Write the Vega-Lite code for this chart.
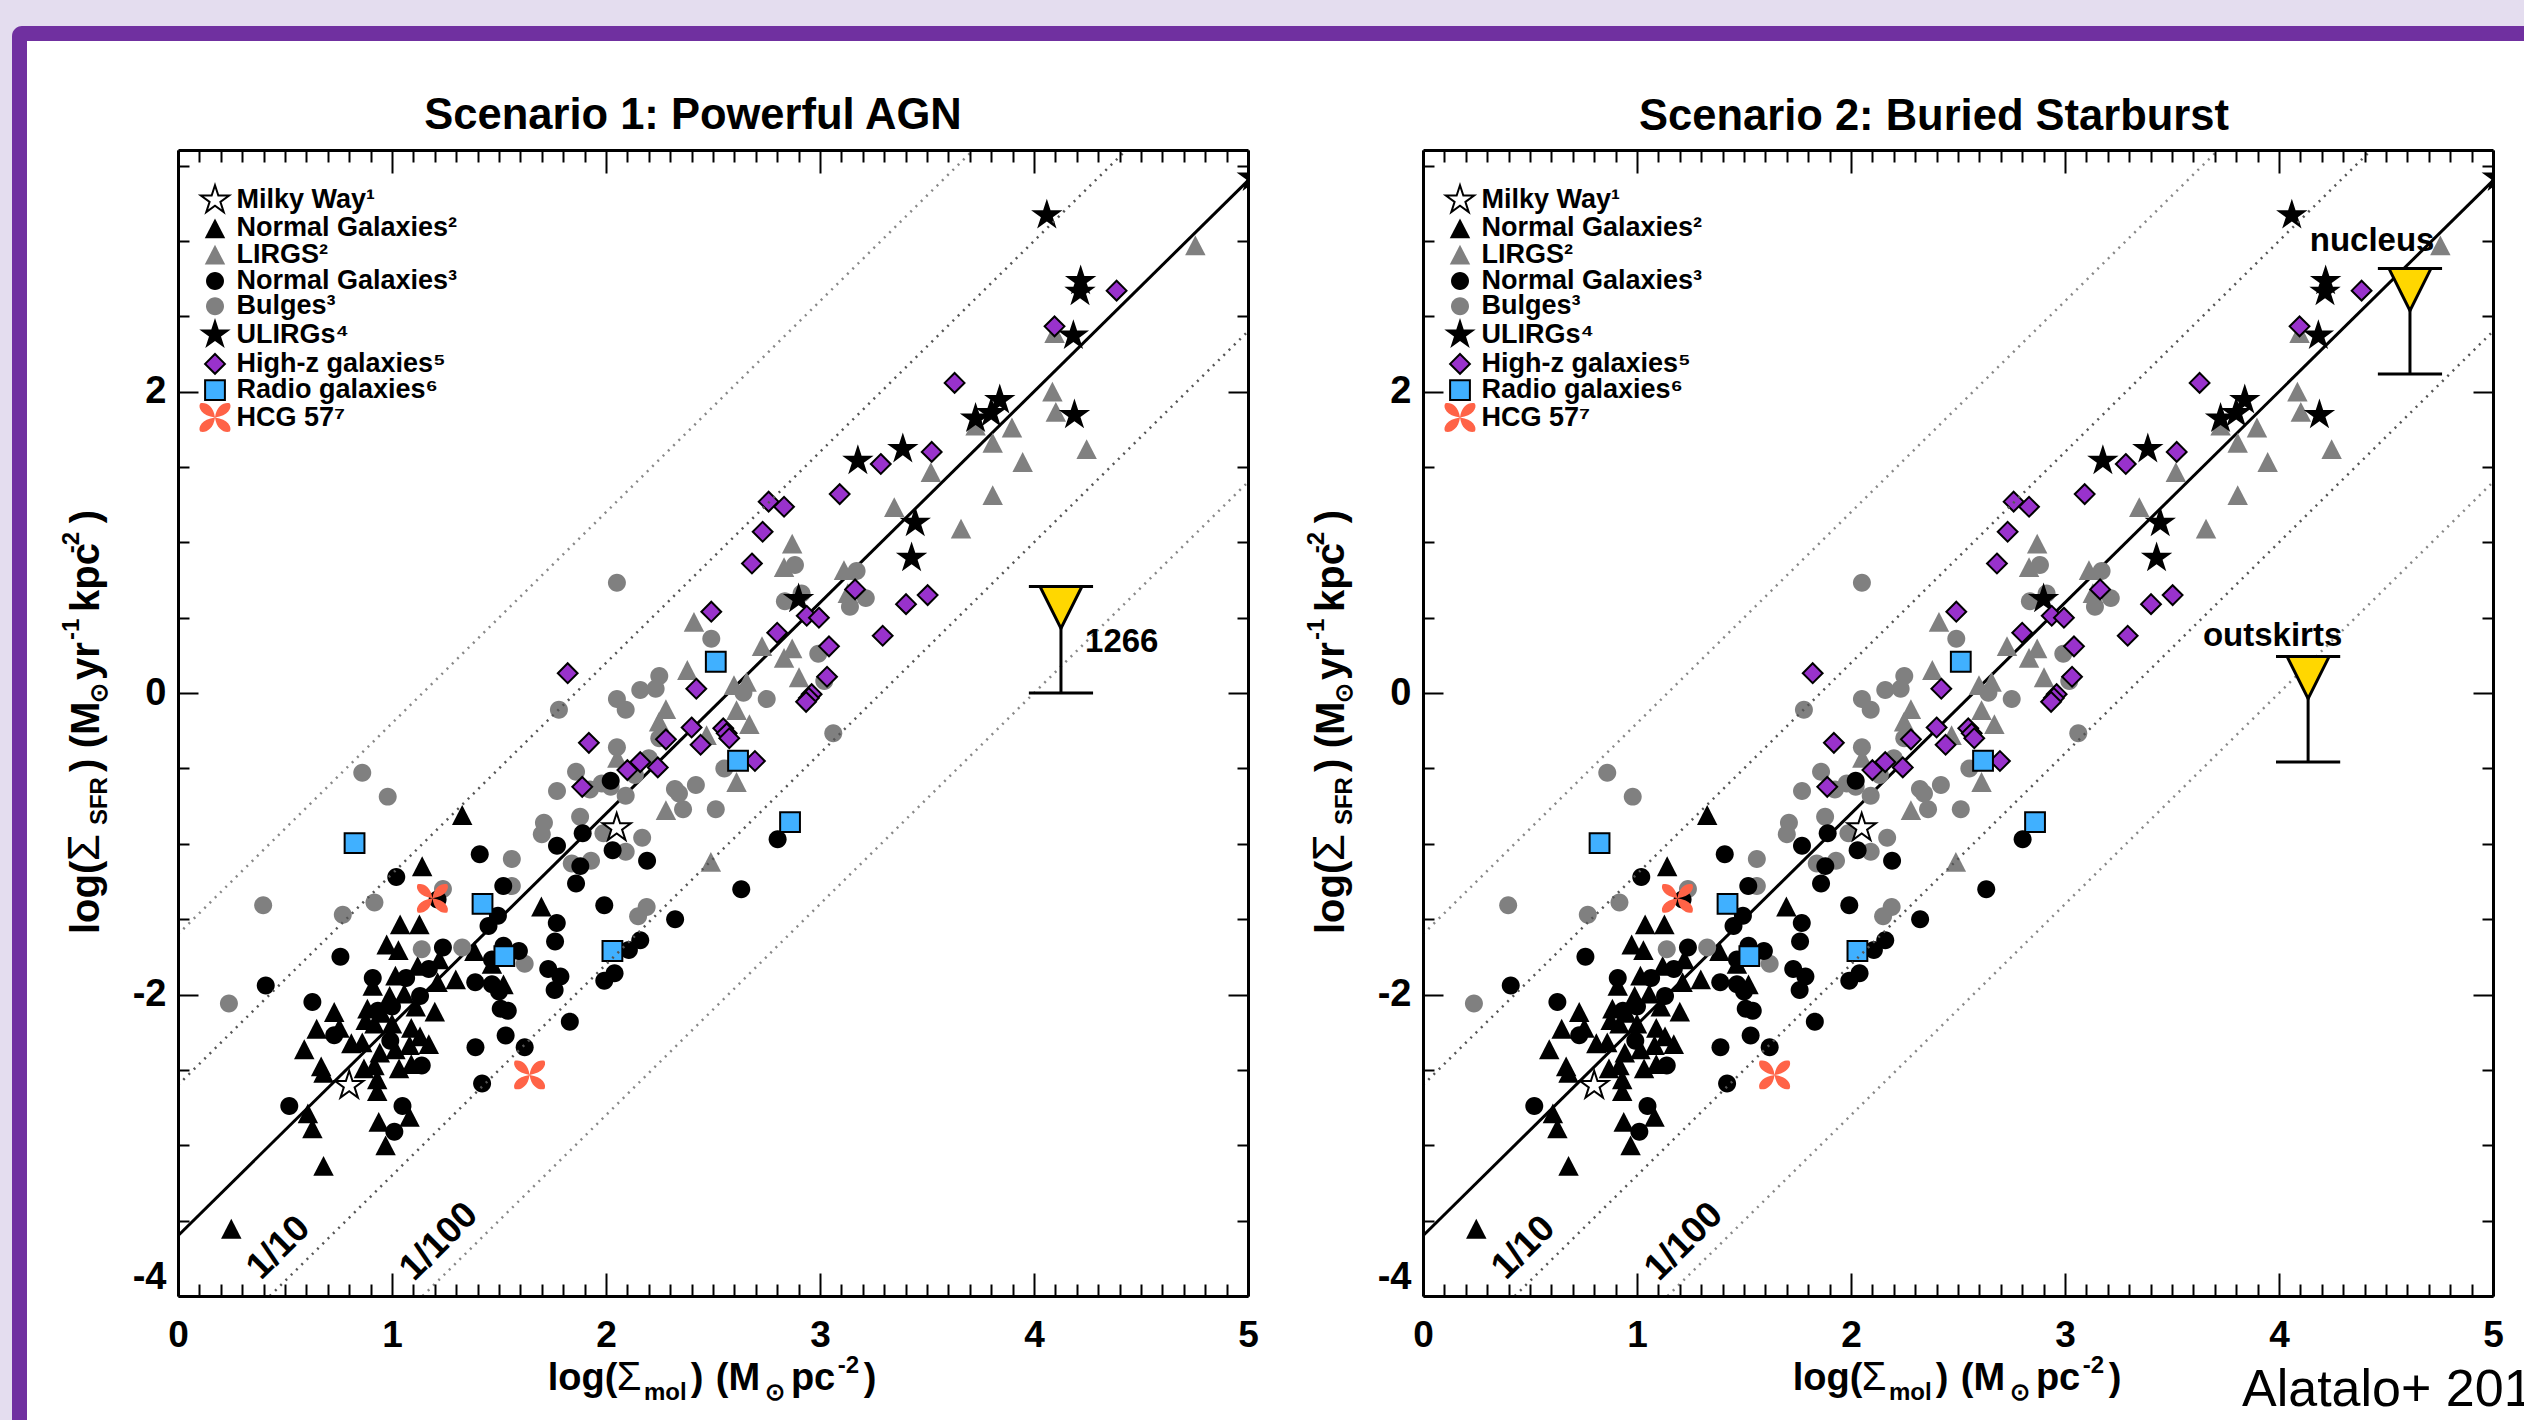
{"$schema":"https://vega.github.io/schema/vega-lite/v6.json","background":"#E4DDEF","autosize":{"type":"none"},"padding":{"left":178,"top":150,"right":2346,"bottom":1270},"bounds":"flush","spacing":175,
"config":{"view":{"stroke":null},"font":"Liberation Sans"},
"resolve":{"scale":{"shape":"independent","fill":"independent","stroke":"independent"},"legend":{"shape":"independent","fill":"independent","stroke":"independent"}},
"datasets":{
"frame":[{"a":-0.7757,"b":10.963,"c":4.426,"d":-4.824,"k":"outer"},{"a":-0.7056,"b":10.963,"c":4.326,"d":-4.824,"k":"inner"}],
"lines":[{"g":"main","k":"a","x":0,"y":-3.6},{"g":"main","k":"a","x":5,"y":3.4},
{"g":"near","k":"up","x":0,"y":-2.6},{"g":"near","k":"up","x":4.429,"y":3.6},{"g":"near","k":"down","x":0.429,"y":-4},{"g":"near","k":"down","x":5,"y":2.4},
{"g":"far","k":"up","x":0,"y":-1.6},{"g":"far","k":"up","x":3.714,"y":3.6},{"g":"far","k":"down","x":1.143,"y":-4},{"g":"far","k":"down","x":5,"y":1.4}],
"rot":[{"t":"1/10","x":0.47,"y":-3.68},{"t":"1/100","x":1.22,"y":-3.64}],
"xt":[{"t":"log(","x":1.728,"y":-4.625,"k":"m"},{"t":"Σ","x":2.05,"y":-4.625,"k":"g"},{"t":"mol","x":2.177,"y":-4.69,"k":"s"},{"t":")","x":2.396,"y":-4.625,"k":"m"},{"t":"(M","x":2.513,"y":-4.625,"k":"m"},{"t":"⊙","x":2.742,"y":-4.69,"k":"s"},{"t":"pc","x":2.864,"y":-4.625,"k":"m"},{"t":"-2","x":3.083,"y":-4.512,"k":"s"},{"t":")","x":3.205,"y":-4.625,"k":"m"}],
"yt":[{"t":"log(","x":-0.368,"y":-1.599,"k":"m"},{"t":"Σ","x":-0.368,"y":-1.115,"k":"g"},{"t":"SFR","x":-0.332,"y":-0.876,"k":"s"},{"t":")","x":-0.368,"y":-0.524,"k":"m"},{"t":"(M","x":-0.368,"y":-0.366,"k":"m"},{"t":"⊙","x":-0.332,"y":-0.066,"k":"s"},{"t":"yr","x":-0.368,"y":0.086,"k":"m"},{"t":"-1","x":-0.463,"y":0.352,"k":"s"},{"t":"kpc","x":-0.368,"y":0.538,"k":"m"},{"t":"-2","x":-0.463,"y":0.928,"k":"s"},{"t":")","x":-0.368,"y":1.127,"k":"m"}],
"lim1":[{"x":4.126,"top":0.707,"bot":0,"l":3.976,"r":4.276}],
"lim2":[{"x":4.612,"top":2.816,"bot":2.117,"l":4.462,"r":4.762},{"x":4.136,"top":0.242,"bot":-0.458,"l":3.986,"r":4.286}],
"lab1":[{"t":"1266","x":4.41,"y":0.27}],
"lab2":[{"t":"nucleus","x":4.435,"y":2.93},{"t":"outskirts","x":3.97,"y":0.313}],
"pts":[
{"s":"Normal Galaxies²","x":1.328,"y":-0.809},{"s":"Normal Galaxies²","x":1.141,"y":-1.149},{"s":"Normal Galaxies²","x":1.698,"y":-1.416},{"s":"Normal Galaxies²","x":1.038,"y":-1.535},{"s":"Normal Galaxies²","x":1.128,"y":-1.535},{"s":"Normal Galaxies²","x":0.975,"y":-1.668},{"s":"Normal Galaxies²","x":1.03,"y":-1.705},{"s":"Normal Galaxies²","x":1.385,"y":-1.711},{"s":"Normal Galaxies²","x":1.467,"y":-1.796},{"s":"Normal Galaxies²","x":1.221,"y":-1.767},{"s":"Normal Galaxies²","x":1.12,"y":-1.81},{"s":"Normal Galaxies²","x":1.016,"y":-1.875},{"s":"Normal Galaxies²","x":1.213,"y":-1.918},{"s":"Normal Galaxies²","x":1.298,"y":-1.9},{"s":"Normal Galaxies²","x":1.521,"y":-1.932},{"s":"Normal Galaxies²","x":0.91,"y":-1.943},{"s":"Normal Galaxies²","x":0.885,"y":-2.094},{"s":"Normal Galaxies²","x":0.73,"y":-2.116},{"s":"Normal Galaxies²","x":0.989,"y":-2.009},{"s":"Normal Galaxies²","x":1.2,"y":-2.113},{"s":"Normal Galaxies²","x":0.877,"y":-2.17},{"s":"Normal Galaxies²","x":0.951,"y":-2.122},{"s":"Normal Galaxies²","x":1.057,"y":-1.994},{"s":"Normal Galaxies²","x":1.111,"y":-2.08},{"s":"Normal Galaxies²","x":0.648,"y":-2.227},{"s":"Normal Galaxies²","x":0.754,"y":-2.221},{"s":"Normal Galaxies²","x":0.918,"y":-2.193},{"s":"Normal Galaxies²","x":1.0,"y":-2.193},{"s":"Normal Galaxies²","x":1.09,"y":-2.221},{"s":"Normal Galaxies²","x":1.131,"y":-2.278},{"s":"Normal Galaxies²","x":1.172,"y":-2.329},{"s":"Normal Galaxies²","x":0.81,"y":-2.323},{"s":"Normal Galaxies²","x":0.861,"y":-2.318},{"s":"Normal Galaxies²","x":0.59,"y":-2.363},{"s":"Normal Galaxies²","x":0.943,"y":-2.386},{"s":"Normal Galaxies²","x":1.016,"y":-2.363},{"s":"Normal Galaxies²","x":1.082,"y":-2.335},{"s":"Normal Galaxies²","x":0.669,"y":-2.476},{"s":"Normal Galaxies²","x":0.68,"y":-2.519},{"s":"Normal Galaxies²","x":0.869,"y":-2.49},{"s":"Normal Galaxies²","x":0.918,"y":-2.47},{"s":"Normal Galaxies²","x":1.033,"y":-2.49},{"s":"Normal Galaxies²","x":1.09,"y":-2.462},{"s":"Normal Galaxies²","x":0.931,"y":-2.562},{"s":"Normal Galaxies²","x":0.931,"y":-2.641},{"s":"Normal Galaxies²","x":0.607,"y":-2.788},{"s":"Normal Galaxies²","x":0.628,"y":-2.888},{"s":"Normal Galaxies²","x":0.938,"y":-2.845},{"s":"Normal Galaxies²","x":1.082,"y":-2.811},{"s":"Normal Galaxies²","x":0.97,"y":-3.001},{"s":"Normal Galaxies²","x":0.68,"y":-3.137},{"s":"Normal Galaxies²","x":0.249,"y":-3.554},
{"s":"LIRGS²","x":4.754,"y":2.97},{"s":"LIRGS²","x":4.086,"y":2.0},{"s":"LIRGS²","x":4.102,"y":1.865},{"s":"LIRGS²","x":3.897,"y":1.762},{"s":"LIRGS²","x":3.807,"y":1.66},{"s":"LIRGS²","x":3.727,"y":1.774},{"s":"LIRGS²","x":3.947,"y":1.533},{"s":"LIRGS²","x":4.246,"y":1.619},{"s":"LIRGS²","x":3.518,"y":1.466},{"s":"LIRGS²","x":3.347,"y":1.234},{"s":"LIRGS²","x":3.807,"y":1.313},{"s":"LIRGS²","x":3.659,"y":1.091},{"s":"LIRGS²","x":4.096,"y":2.389},{"s":"LIRGS²","x":2.87,"y":0.991},{"s":"LIRGS²","x":2.411,"y":0.473},{"s":"LIRGS²","x":2.38,"y":0.153},{"s":"LIRGS²","x":2.832,"y":0.835},{"s":"LIRGS²","x":3.112,"y":0.816},{"s":"LIRGS²","x":3.13,"y":0.663},{"s":"LIRGS²","x":2.729,"y":0.312},{"s":"LIRGS²","x":2.87,"y":0.297},{"s":"LIRGS²","x":2.832,"y":0.234},{"s":"LIRGS²","x":2.902,"y":0.105},{"s":"LIRGS²","x":2.598,"y":0.053},{"s":"LIRGS²","x":2.657,"y":0.075},{"s":"LIRGS²","x":2.28,"y":-0.106},{"s":"LIRGS²","x":2.61,"y":-0.113},{"s":"LIRGS²","x":2.67,"y":-0.206},{"s":"LIRGS²","x":2.248,"y":-0.19},{"s":"LIRGS²","x":2.47,"y":-0.279},{"s":"LIRGS²","x":2.053,"y":-0.43},{"s":"LIRGS²","x":2.61,"y":-0.59},{"s":"LIRGS²","x":2.28,"y":-0.776},{"s":"LIRGS²","x":2.49,"y":-1.12},
{"s":"Bulges³","x":2.051,"y":0.732},{"s":"Bulges³","x":2.492,"y":0.36},{"s":"Bulges³","x":2.249,"y":0.113},{"s":"Bulges³","x":2.16,"y":0.02},{"s":"Bulges³","x":2.232,"y":0.029},{"s":"Bulges³","x":2.051,"y":-0.04},{"s":"Bulges³","x":2.092,"y":-0.111},{"s":"Bulges³","x":1.78,"y":-0.111},{"s":"Bulges³","x":2.642,"y":0.002},{"s":"Bulges³","x":2.751,"y":-0.04},{"s":"Bulges³","x":2.992,"y":0.261},{"s":"Bulges³","x":3.02,"y":0.08},{"s":"Bulges³","x":3.062,"y":-0.267},{"s":"Bulges³","x":2.051,"y":-0.36},{"s":"Bulges³","x":2.249,"y":-0.3},{"s":"Bulges³","x":2.2,"y":-0.432},{"s":"Bulges³","x":1.86,"y":-0.522},{"s":"Bulges³","x":1.771,"y":-0.65},{"s":"Bulges³","x":1.925,"y":-0.64},{"s":"Bulges³","x":1.98,"y":-0.6},{"s":"Bulges³","x":2.022,"y":-0.622},{"s":"Bulges³","x":2.135,"y":-0.544},{"s":"Bulges³","x":2.092,"y":-0.681},{"s":"Bulges³","x":2.322,"y":-0.637},{"s":"Bulges³","x":2.341,"y":-0.666},{"s":"Bulges³","x":2.42,"y":-0.61},{"s":"Bulges³","x":2.553,"y":-0.5},{"s":"Bulges³","x":2.36,"y":-0.77},{"s":"Bulges³","x":2.513,"y":-0.77},{"s":"Bulges³","x":1.879,"y":-0.82},{"s":"Bulges³","x":1.71,"y":-0.86},{"s":"Bulges³","x":1.7,"y":-0.936},{"s":"Bulges³","x":1.988,"y":-0.93},{"s":"Bulges³","x":2.169,"y":-0.96},{"s":"Bulges³","x":2.092,"y":-1.053},{"s":"Bulges³","x":1.56,"y":-1.1},{"s":"Bulges³","x":1.93,"y":-1.113},{"s":"Bulges³","x":1.84,"y":-1.13},{"s":"Bulges³","x":1.56,"y":-1.28},{"s":"Bulges³","x":2.19,"y":-1.42},{"s":"Bulges³","x":2.15,"y":-1.48},{"s":"Bulges³","x":2.883,"y":0.85},{"s":"Bulges³","x":3.171,"y":0.81},{"s":"Bulges³","x":3.214,"y":0.63},{"s":"Bulges³","x":3.14,"y":0.573},{"s":"Bulges³","x":2.836,"y":0.61},{"s":"Bulges³","x":2.914,"y":0.66},{"s":"Bulges³","x":0.861,"y":-0.528},{"s":"Bulges³","x":0.98,"y":-0.687},{"s":"Bulges³","x":0.398,"y":-1.407},{"s":"Bulges³","x":0.77,"y":-1.47},{"s":"Bulges³","x":0.918,"y":-1.39},{"s":"Bulges³","x":1.238,"y":-1.3},{"s":"Bulges³","x":1.139,"y":-1.7},{"s":"Bulges³","x":1.328,"y":-1.688},{"s":"Bulges³","x":1.62,"y":-1.796},{"s":"Bulges³","x":0.238,"y":-2.06},
{"s":"Normal Galaxies³","x":1.41,"y":-1.07},{"s":"Normal Galaxies³","x":1.02,"y":-1.22},{"s":"Normal Galaxies³","x":1.52,"y":-1.28},{"s":"Normal Galaxies³","x":1.213,"y":-1.37},{"s":"Normal Galaxies³","x":1.495,"y":-1.478},{"s":"Normal Galaxies³","x":1.451,"y":-1.546},{"s":"Normal Galaxies³","x":1.77,"y":-1.526},{"s":"Normal Galaxies³","x":1.762,"y":-1.648},{"s":"Normal Galaxies³","x":1.992,"y":-1.407},{"s":"Normal Galaxies³","x":2.323,"y":-1.5},{"s":"Normal Galaxies³","x":2.16,"y":-1.64},{"s":"Normal Galaxies³","x":2.107,"y":-1.705},{"s":"Normal Galaxies³","x":1.238,"y":-1.688},{"s":"Normal Galaxies³","x":1.521,"y":-1.677},{"s":"Normal Galaxies³","x":1.593,"y":-1.711},{"s":"Normal Galaxies³","x":1.467,"y":-1.767},{"s":"Normal Galaxies³","x":1.172,"y":-1.83},{"s":"Normal Galaxies³","x":1.066,"y":-1.89},{"s":"Normal Galaxies³","x":0.91,"y":-1.89},{"s":"Normal Galaxies³","x":1.389,"y":-1.918},{"s":"Normal Galaxies³","x":0.759,"y":-1.75},{"s":"Normal Galaxies³","x":0.41,"y":-1.94},{"s":"Normal Galaxies³","x":0.628,"y":-2.05},{"s":"Normal Galaxies³","x":1.467,"y":-1.932},{"s":"Normal Galaxies³","x":1.5,"y":-1.98},{"s":"Normal Galaxies³","x":1.131,"y":-2.01},{"s":"Normal Galaxies³","x":1.73,"y":-1.83},{"s":"Normal Galaxies³","x":1.787,"y":-1.88},{"s":"Normal Galaxies³","x":1.76,"y":-1.97},{"s":"Normal Galaxies³","x":1.508,"y":-2.094},{"s":"Normal Galaxies³","x":1.541,"y":-2.108},{"s":"Normal Galaxies³","x":2.04,"y":-1.858},{"s":"Normal Galaxies³","x":1.992,"y":-1.909},{"s":"Normal Galaxies³","x":1.831,"y":-2.18},{"s":"Normal Galaxies³","x":1.531,"y":-2.272},{"s":"Normal Galaxies³","x":1.39,"y":-2.349},{"s":"Normal Galaxies³","x":1.62,"y":-2.349},{"s":"Normal Galaxies³","x":1.421,"y":-2.59},{"s":"Normal Galaxies³","x":0.73,"y":-2.27},{"s":"Normal Galaxies³","x":1.139,"y":-2.47},{"s":"Normal Galaxies³","x":0.992,"y":-2.306},{"s":"Normal Galaxies³","x":0.934,"y":-2.108},{"s":"Normal Galaxies³","x":1.0,"y":-2.08},{"s":"Normal Galaxies³","x":1.049,"y":-2.74},{"s":"Normal Galaxies³","x":1.011,"y":-2.91},{"s":"Normal Galaxies³","x":0.52,"y":-2.74},{"s":"Normal Galaxies³","x":2.022,"y":-0.582},{"s":"Normal Galaxies³","x":1.891,"y":-0.93},{"s":"Normal Galaxies³","x":1.771,"y":-1.013},{"s":"Normal Galaxies³","x":2.031,"y":-1.042},{"s":"Normal Galaxies³","x":1.88,"y":-1.148},{"s":"Normal Galaxies³","x":2.192,"y":-1.113},{"s":"Normal Galaxies³","x":1.86,"y":-1.263},{"s":"Normal Galaxies³","x":2.632,"y":-1.302},{"s":"Normal Galaxies³","x":2.802,"y":-0.97},
{"s":"ULIRGs⁴","x":4.06,"y":3.17},{"s":"ULIRGs⁴","x":4.218,"y":2.734},{"s":"ULIRGs⁴","x":4.215,"y":2.662},{"s":"ULIRGs⁴","x":4.184,"y":2.371},{"s":"ULIRGs⁴","x":3.84,"y":1.944},{"s":"ULIRGs⁴","x":3.8,"y":1.857},{"s":"ULIRGs⁴","x":3.727,"y":1.821},{"s":"ULIRGs⁴","x":4.189,"y":1.845},{"s":"ULIRGs⁴","x":3.387,"y":1.619},{"s":"ULIRGs⁴","x":3.177,"y":1.541},{"s":"ULIRGs⁴","x":3.445,"y":1.129},{"s":"ULIRGs⁴","x":3.428,"y":0.897},{"s":"ULIRGs⁴","x":2.9,"y":0.624},{"s":"ULIRGs⁴","x":5.02,"y":3.42},
{"s":"High-z galaxies⁵","x":1.821,"y":0.132},{"s":"High-z galaxies⁵","x":2.492,"y":0.54},{"s":"High-z galaxies⁵","x":2.76,"y":1.27},{"s":"High-z galaxies⁵","x":2.832,"y":1.236},{"s":"High-z galaxies⁵","x":2.732,"y":1.07},{"s":"High-z galaxies⁵","x":2.682,"y":0.86},{"s":"High-z galaxies⁵","x":3.092,"y":1.32},{"s":"High-z galaxies⁵","x":3.284,"y":1.52},{"s":"High-z galaxies⁵","x":3.522,"y":1.6},{"s":"High-z galaxies⁵","x":3.164,"y":0.688},{"s":"High-z galaxies⁵","x":2.938,"y":0.513},{"s":"High-z galaxies⁵","x":2.995,"y":0.5},{"s":"High-z galaxies⁵","x":2.8,"y":0.4},{"s":"High-z galaxies⁵","x":3.402,"y":0.59},{"s":"High-z galaxies⁵","x":3.503,"y":0.65},{"s":"High-z galaxies⁵","x":3.293,"y":0.38},{"s":"High-z galaxies⁵","x":3.042,"y":0.31},{"s":"High-z galaxies⁵","x":3.033,"y":0.108},{"s":"High-z galaxies⁵","x":2.961,"y":-0.007},{"s":"High-z galaxies⁵","x":2.948,"y":-0.033},{"s":"High-z galaxies⁵","x":2.935,"y":-0.058},{"s":"High-z galaxies⁵","x":2.422,"y":0.029},{"s":"High-z galaxies⁵","x":1.92,"y":-0.33},{"s":"High-z galaxies⁵","x":2.4,"y":-0.228},{"s":"High-z galaxies⁵","x":2.28,"y":-0.307},{"s":"High-z galaxies⁵","x":2.442,"y":-0.343},{"s":"High-z galaxies⁵","x":2.548,"y":-0.234},{"s":"High-z galaxies⁵","x":2.564,"y":-0.267},{"s":"High-z galaxies⁵","x":2.576,"y":-0.3},{"s":"High-z galaxies⁵","x":2.696,"y":-0.451},{"s":"High-z galaxies⁵","x":2.16,"y":-0.458},{"s":"High-z galaxies⁵","x":2.1,"y":-0.511},{"s":"High-z galaxies⁵","x":2.242,"y":-0.493},{"s":"High-z galaxies⁵","x":1.889,"y":-0.622},{"s":"High-z galaxies⁵","x":4.386,"y":2.67},{"s":"High-z galaxies⁵","x":4.096,"y":2.433},{"s":"High-z galaxies⁵","x":3.629,"y":2.058},
{"s":"Radio galaxies⁶","x":0.825,"y":-0.996},{"s":"Radio galaxies⁶","x":1.423,"y":-1.399},{"s":"Radio galaxies⁶","x":1.525,"y":-1.745},{"s":"Radio galaxies⁶","x":2.03,"y":-1.711},{"s":"Radio galaxies⁶","x":2.513,"y":0.208},{"s":"Radio galaxies⁶","x":2.617,"y":-0.449},{"s":"Radio galaxies⁶","x":2.86,"y":-0.856},
{"s":"HCG 57⁷","x":1.189,"y":-1.362},{"s":"HCG 57⁷","x":1.643,"y":-2.533},
{"s":"Milky Way¹","x":0.8,"y":-2.604},{"s":"Milky Way¹","x":2.05,"y":-0.894}
]},
"hconcat":[
{"width":1070,"height":1146,
"title":{"text":"Scenario 1: Powerful AGN","font":"Liberation Sans","fontSize":43.5,"fontWeight":"bold","color":"#000","anchor":"middle","dx":-20,"offset":-113},
"encoding":{"x":{"field":"x","type":"quantitative","scale":{"domain":[0,5],"nice":false,"zero":false},"axis":null},"y":{"field":"y","type":"quantitative","scale":{"domain":[-4,3.603],"nice":false,"zero":false},"axis":null}},
"resolve":{"axis":{"x":"independent","y":"independent"}},
"layer":[
{"data":{"name":"frame"},"transform":[{"filter":"datum.k=='outer'"}],"mark":{"type":"rect","color":"#7030A0","cornerRadiusTopLeft":10},"encoding":{"x":{"field":"a","type":"quantitative","scale":{"domain":[0,5],"nice":false,"zero":false},"axis":null},"x2":{"field":"b"},"y":{"field":"c","type":"quantitative","scale":{"domain":[-4,3.603],"nice":false,"zero":false},"axis":null},"y2":{"field":"d"}}},
{"data":{"name":"frame"},"transform":[{"filter":"datum.k=='inner'"}],"mark":{"type":"rect","color":"#FFFFFF"},"encoding":{"x":{"field":"a","type":"quantitative","scale":{"domain":[0,5],"nice":false,"zero":false},"axis":null},"x2":{"field":"b"},"y":{"field":"c","type":"quantitative","scale":{"domain":[-4,3.603],"nice":false,"zero":false},"axis":null},"y2":{"field":"d"}}},
{"data":{"name":"lines"},"transform":[{"filter":"datum.g=='main'"}],"mark":{"type":"line","color":"#000","strokeWidth":3},"encoding":{"detail":{"field":"k"},
"x":{"field":"x","type":"quantitative","scale":{"domain":[0,5],"nice":false,"zero":false},"axis":{"orient":"bottom","title":null,"zindex":1,"grid":false,"values":[0,0.1,0.2,0.3,0.4,0.5,0.6,0.7,0.8,0.9,1,1.1,1.2,1.3,1.4,1.5,1.6,1.7,1.8,1.9,2,2.1,2.2,2.3,2.4,2.5,2.6,2.7,2.8,2.9,3,3.1,3.2,3.3,3.4,3.5,3.6,3.7,3.8,3.9,4,4.1,4.2,4.3,4.4,4.5,4.6,4.7,4.8,4.9,5],"tickSize":{"condition":{"test":"abs(datum.value-round(datum.value))<0.001","value":-23},"value":-12},"tickWidth":2,"tickColor":"#000","domainColor":"#000","domainWidth":3,"labelExpr":"abs(datum.value-round(datum.value))<0.001 ? ''+round(datum.value) : ''","labelFont":"Liberation Sans","labelFontSize":37,"labelFontWeight":"bold","labelColor":"#000","labelPadding":44,"labelOverlap":false,"labelFlush":false}},
"y":{"field":"y","type":"quantitative","scale":{"domain":[-4,3.603],"nice":false,"zero":false},"axis":{"orient":"left","title":null,"zindex":1,"grid":false,"values":[-4,-3.5,-3,-2.5,-2,-1.5,-1,-0.5,0,0.5,1,1.5,2,2.5,3,3.5],"tickSize":{"condition":{"test":"datum.value%2==0","value":-20},"value":-11},"tickWidth":2,"tickColor":"#000","domainColor":"#000","domainWidth":3,"labelExpr":"datum.value%2==0 ? ''+datum.value : ''","labelFont":"Liberation Sans","labelFontSize":38,"labelFontWeight":"bold","labelColor":"#000","labelPadding":32,"labelOverlap":false,"labelFlush":true}}}},
{"data":{"name":"pts"},"mark":{"type":"point","filled":true,"opacity":1,"size":1089,"strokeWidth":2,"clip":true},"encoding":{
"shape":{"field":"s","type":"nominal","legend":{"title":null,"orient":"none","legendX":19.5,"legendY":32.6,"padding":0,"symbolSize":1089,"symbolStrokeWidth":2,"labelFont":"Liberation Sans","labelFontSize":27,"labelFontWeight":"bold","labelColor":"#000","labelOffset":4,"labelLimit":500,"rowPadding":-5.7,"gridAlign":"none","columns":1},"scale":{"domain":["Milky Way¹","Normal Galaxies²","LIRGS²","Normal Galaxies³","Bulges³","ULIRGs⁴","High-z galaxies⁵","Radio galaxies⁶","HCG 57⁷"],"range":["M0,-0.9L0.202,-0.278L0.856,-0.278L0.327,0.106L0.529,0.728L0,0.344L-0.529,0.728L-0.327,0.106L-0.856,-0.278L-0.202,-0.278Z","M0,-0.6L0.62,0.6L-0.62,0.6Z","M0,-0.6L0.62,0.6L-0.62,0.6Z","M-0.545,0A0.545,0.545 0 1,0 0.545,0A0.545,0.545 0 1,0 -0.545,0Z","M-0.545,0A0.545,0.545 0 1,0 0.545,0A0.545,0.545 0 1,0 -0.545,0Z","M0,-1L0.2245,-0.309L0.951,-0.309L0.363,0.118L0.588,0.809L0,0.382L-0.588,0.809L-0.363,0.118L-0.951,-0.309L-0.2245,-0.309Z","M0,-0.6L0.6,0L0,0.6L-0.6,0Z","M-0.6,-0.6L0.6,-0.6L0.6,0.6L-0.6,0.6Z","M0,0C0.1,-0.75 0.6,-0.95 0.9,-0.85C1.05,-0.6 0.8,-0.1 0,0ZM0,0C0.8,0.1 1.05,0.6 0.9,0.85C0.6,0.95 0.1,0.75 0,0ZM0,0C-0.1,0.75 -0.6,0.95 -0.9,0.85C-1.05,0.6 -0.8,0.1 0,0ZM0,0C-0.8,-0.1 -1.05,-0.6 -0.9,-0.85C-0.6,-0.95 -0.1,-0.75 0,0Z"]}},
"fill":{"field":"s","type":"nominal","legend":{"title":null,"orient":"none","legendX":19.5,"legendY":32.6,"padding":0,"symbolSize":1089,"symbolStrokeWidth":2,"labelFont":"Liberation Sans","labelFontSize":27,"labelFontWeight":"bold","labelColor":"#000","labelOffset":4,"labelLimit":500,"rowPadding":-5.7,"gridAlign":"none","columns":1},"scale":{"domain":["Milky Way¹","Normal Galaxies²","LIRGS²","Normal Galaxies³","Bulges³","ULIRGs⁴","High-z galaxies⁵","Radio galaxies⁶","HCG 57⁷"],"range":["#FFFFFF","#000000","#808080","#000000","#808080","#000000","#9932CC","#40B0FF","#FF6347"]}},
"stroke":{"field":"s","type":"nominal","legend":{"title":null,"orient":"none","legendX":19.5,"legendY":32.6,"padding":0,"symbolSize":1089,"symbolStrokeWidth":2,"labelFont":"Liberation Sans","labelFontSize":27,"labelFontWeight":"bold","labelColor":"#000","labelOffset":4,"labelLimit":500,"rowPadding":-5.7,"gridAlign":"none","columns":1},"scale":{"domain":["Milky Way¹","Normal Galaxies²","LIRGS²","Normal Galaxies³","Bulges³","ULIRGs⁴","High-z galaxies⁵","Radio galaxies⁶","HCG 57⁷"],"range":["#000000","transparent","transparent","transparent","transparent","transparent","#000000","#000000","transparent"]}}}},
{"data":{"name":"lines"},"transform":[{"filter":"datum.g=='near'"}],"mark":{"type":"line","color":"#555555","strokeWidth":2.5,"strokeDash":[2,5.4]},"encoding":{"detail":{"field":"k"},
"x":{"field":"x","type":"quantitative","scale":{"domain":[0,5],"nice":false,"zero":false},"axis":{"orient":"top","title":null,"zindex":1,"grid":false,"labels":false,"values":[0,0.1,0.2,0.3,0.4,0.5,0.6,0.7,0.8,0.9,1,1.1,1.2,1.3,1.4,1.5,1.6,1.7,1.8,1.9,2,2.1,2.2,2.3,2.4,2.5,2.6,2.7,2.8,2.9,3,3.1,3.2,3.3,3.4,3.5,3.6,3.7,3.8,3.9,4,4.1,4.2,4.3,4.4,4.5,4.6,4.7,4.8,4.9,5],"tickSize":{"condition":{"test":"abs(datum.value-round(datum.value))<0.001","value":-23},"value":-12},"tickWidth":2,"tickColor":"#000","domainColor":"#000","domainWidth":3}},
"y":{"field":"y","type":"quantitative","scale":{"domain":[-4,3.603],"nice":false,"zero":false},"axis":{"orient":"right","title":null,"zindex":1,"grid":false,"labels":false,"values":[-4,-3.5,-3,-2.5,-2,-1.5,-1,-0.5,0,0.5,1,1.5,2,2.5,3,3.5],"tickSize":{"condition":{"test":"datum.value%2==0","value":-20},"value":-11},"tickWidth":2,"tickColor":"#000","domainColor":"#000","domainWidth":3}}}},
{"data":{"name":"lines"},"transform":[{"filter":"datum.g=='far'"}],"mark":{"type":"line","color":"#888888","strokeWidth":2.5,"strokeDash":[2,5.4]},"encoding":{"detail":{"field":"k"}}},
{"data":{"name":"lim1"},"mark":{"type":"rule","color":"#000","strokeWidth":3},"encoding":{"y":{"field":"top","type":"quantitative"},"y2":{"field":"bot"}}},
{"data":{"name":"lim1"},"mark":{"type":"rule","color":"#000","strokeWidth":3},"encoding":{"x":{"field":"l","type":"quantitative"},"x2":{"field":"r"},"y":{"field":"top","type":"quantitative"}}},
{"data":{"name":"lim1"},"mark":{"type":"rule","color":"#000","strokeWidth":3},"encoding":{"x":{"field":"l","type":"quantitative"},"x2":{"field":"r"},"y":{"field":"bot","type":"quantitative"}}},
{"data":{"name":"lim1"},"mark":{"type":"point","filled":true,"opacity":1,"fill":"#FFD700","stroke":"#000","strokeWidth":3,"size":1764,"shape":"M-1,0L1,0L0,2Z"},"encoding":{"y":{"field":"top","type":"quantitative"}}},
{"data":{"name":"lab1"},"mark":{"type":"text","font":"Liberation Sans","fontWeight":"bold","fontSize":33,"color":"#000","align":"center","baseline":"alphabetic"},"encoding":{"text":{"field":"t"}}},
{"data":{"name":"rot"},"mark":{"type":"text","font":"Liberation Sans","fontWeight":"bold","fontSize":37,"color":"#000","align":"center","baseline":"middle","angle":315},"encoding":{"text":{"field":"t"}}},
{"data":{"name":"xt"},"transform":[{"filter":"datum.k=='m'"}],"mark":{"type":"text","font":"Liberation Sans","fontWeight":"bold","fontSize":38,"color":"#000","align":"left","baseline":"alphabetic"},"encoding":{"text":{"field":"t"}}},
{"data":{"name":"xt"},"transform":[{"filter":"datum.k=='g'"}],"mark":{"type":"text","font":"Liberation Sans","fontSize":40,"color":"#000","align":"left","baseline":"alphabetic"},"encoding":{"text":{"field":"t"}}},
{"data":{"name":"xt"},"transform":[{"filter":"datum.k=='s'"}],"mark":{"type":"text","font":"Liberation Sans","fontWeight":"bold","fontSize":24,"color":"#000","align":"left","baseline":"alphabetic"},"encoding":{"text":{"field":"t"}}},
{"data":{"name":"yt"},"transform":[{"filter":"datum.k=='m'"}],"mark":{"type":"text","font":"Liberation Sans","fontWeight":"bold","fontSize":40,"color":"#000","align":"left","baseline":"alphabetic","angle":270},"encoding":{"text":{"field":"t"}}},
{"data":{"name":"yt"},"transform":[{"filter":"datum.k=='g'"}],"mark":{"type":"text","font":"Liberation Sans","fontSize":44,"color":"#000","align":"left","baseline":"alphabetic","angle":270},"encoding":{"text":{"field":"t"}}},
{"data":{"name":"yt"},"transform":[{"filter":"datum.k=='s'"}],"mark":{"type":"text","font":"Liberation Sans","fontWeight":"bold","fontSize":24,"color":"#000","align":"left","baseline":"alphabetic","angle":270},"encoding":{"text":{"field":"t"}}}
]},
{"width":1070,"height":1146,
"title":{"text":"Scenario 2: Buried Starburst","font":"Liberation Sans","fontSize":43.5,"fontWeight":"bold","color":"#000","anchor":"middle","dx":-24,"offset":6},
"encoding":{"x":{"field":"x","type":"quantitative","scale":{"domain":[0,5],"nice":false,"zero":false},"axis":null},"y":{"field":"y","type":"quantitative","scale":{"domain":[-4,3.603],"nice":false,"zero":false},"axis":null}},
"resolve":{"axis":{"x":"independent","y":"independent"}},
"layer":[
{"data":{"name":"lines"},"transform":[{"filter":"datum.g=='main'"}],"mark":{"type":"line","color":"#000","strokeWidth":3},"encoding":{"detail":{"field":"k"},
"x":{"field":"x","type":"quantitative","scale":{"domain":[0,5],"nice":false,"zero":false},"axis":{"orient":"bottom","title":null,"zindex":1,"grid":false,"values":[0,0.1,0.2,0.3,0.4,0.5,0.6,0.7,0.8,0.9,1,1.1,1.2,1.3,1.4,1.5,1.6,1.7,1.8,1.9,2,2.1,2.2,2.3,2.4,2.5,2.6,2.7,2.8,2.9,3,3.1,3.2,3.3,3.4,3.5,3.6,3.7,3.8,3.9,4,4.1,4.2,4.3,4.4,4.5,4.6,4.7,4.8,4.9,5],"tickSize":{"condition":{"test":"abs(datum.value-round(datum.value))<0.001","value":-23},"value":-12},"tickWidth":2,"tickColor":"#000","domainColor":"#000","domainWidth":3,"labelExpr":"abs(datum.value-round(datum.value))<0.001 ? ''+round(datum.value) : ''","labelFont":"Liberation Sans","labelFontSize":37,"labelFontWeight":"bold","labelColor":"#000","labelPadding":44,"labelOverlap":false,"labelFlush":false}},
"y":{"field":"y","type":"quantitative","scale":{"domain":[-4,3.603],"nice":false,"zero":false},"axis":{"orient":"left","title":null,"zindex":1,"grid":false,"values":[-4,-3.5,-3,-2.5,-2,-1.5,-1,-0.5,0,0.5,1,1.5,2,2.5,3,3.5],"tickSize":{"condition":{"test":"datum.value%2==0","value":-20},"value":-11},"tickWidth":2,"tickColor":"#000","domainColor":"#000","domainWidth":3,"labelExpr":"datum.value%2==0 ? ''+datum.value : ''","labelFont":"Liberation Sans","labelFontSize":38,"labelFontWeight":"bold","labelColor":"#000","labelPadding":32,"labelOverlap":false,"labelFlush":true}}}},
{"data":{"name":"pts"},"mark":{"type":"point","filled":true,"opacity":1,"size":1089,"strokeWidth":2,"clip":true},"encoding":{
"shape":{"field":"s","type":"nominal","legend":{"title":null,"orient":"none","legendX":19.5,"legendY":32.6,"padding":0,"symbolSize":1089,"symbolStrokeWidth":2,"labelFont":"Liberation Sans","labelFontSize":27,"labelFontWeight":"bold","labelColor":"#000","labelOffset":4,"labelLimit":500,"rowPadding":-5.7,"gridAlign":"none","columns":1},"scale":{"domain":["Milky Way¹","Normal Galaxies²","LIRGS²","Normal Galaxies³","Bulges³","ULIRGs⁴","High-z galaxies⁵","Radio galaxies⁶","HCG 57⁷"],"range":["M0,-0.9L0.202,-0.278L0.856,-0.278L0.327,0.106L0.529,0.728L0,0.344L-0.529,0.728L-0.327,0.106L-0.856,-0.278L-0.202,-0.278Z","M0,-0.6L0.62,0.6L-0.62,0.6Z","M0,-0.6L0.62,0.6L-0.62,0.6Z","M-0.545,0A0.545,0.545 0 1,0 0.545,0A0.545,0.545 0 1,0 -0.545,0Z","M-0.545,0A0.545,0.545 0 1,0 0.545,0A0.545,0.545 0 1,0 -0.545,0Z","M0,-1L0.2245,-0.309L0.951,-0.309L0.363,0.118L0.588,0.809L0,0.382L-0.588,0.809L-0.363,0.118L-0.951,-0.309L-0.2245,-0.309Z","M0,-0.6L0.6,0L0,0.6L-0.6,0Z","M-0.6,-0.6L0.6,-0.6L0.6,0.6L-0.6,0.6Z","M0,0C0.1,-0.75 0.6,-0.95 0.9,-0.85C1.05,-0.6 0.8,-0.1 0,0ZM0,0C0.8,0.1 1.05,0.6 0.9,0.85C0.6,0.95 0.1,0.75 0,0ZM0,0C-0.1,0.75 -0.6,0.95 -0.9,0.85C-1.05,0.6 -0.8,0.1 0,0ZM0,0C-0.8,-0.1 -1.05,-0.6 -0.9,-0.85C-0.6,-0.95 -0.1,-0.75 0,0Z"]}},
"fill":{"field":"s","type":"nominal","legend":{"title":null,"orient":"none","legendX":19.5,"legendY":32.6,"padding":0,"symbolSize":1089,"symbolStrokeWidth":2,"labelFont":"Liberation Sans","labelFontSize":27,"labelFontWeight":"bold","labelColor":"#000","labelOffset":4,"labelLimit":500,"rowPadding":-5.7,"gridAlign":"none","columns":1},"scale":{"domain":["Milky Way¹","Normal Galaxies²","LIRGS²","Normal Galaxies³","Bulges³","ULIRGs⁴","High-z galaxies⁵","Radio galaxies⁶","HCG 57⁷"],"range":["#FFFFFF","#000000","#808080","#000000","#808080","#000000","#9932CC","#40B0FF","#FF6347"]}},
"stroke":{"field":"s","type":"nominal","legend":{"title":null,"orient":"none","legendX":19.5,"legendY":32.6,"padding":0,"symbolSize":1089,"symbolStrokeWidth":2,"labelFont":"Liberation Sans","labelFontSize":27,"labelFontWeight":"bold","labelColor":"#000","labelOffset":4,"labelLimit":500,"rowPadding":-5.7,"gridAlign":"none","columns":1},"scale":{"domain":["Milky Way¹","Normal Galaxies²","LIRGS²","Normal Galaxies³","Bulges³","ULIRGs⁴","High-z galaxies⁵","Radio galaxies⁶","HCG 57⁷"],"range":["#000000","transparent","transparent","transparent","transparent","transparent","#000000","#000000","transparent"]}}}},
{"data":{"name":"lines"},"transform":[{"filter":"datum.g=='near'"}],"mark":{"type":"line","color":"#555555","strokeWidth":2.5,"strokeDash":[2,5.4]},"encoding":{"detail":{"field":"k"},
"x":{"field":"x","type":"quantitative","scale":{"domain":[0,5],"nice":false,"zero":false},"axis":{"orient":"top","title":null,"zindex":1,"grid":false,"labels":false,"values":[0,0.1,0.2,0.3,0.4,0.5,0.6,0.7,0.8,0.9,1,1.1,1.2,1.3,1.4,1.5,1.6,1.7,1.8,1.9,2,2.1,2.2,2.3,2.4,2.5,2.6,2.7,2.8,2.9,3,3.1,3.2,3.3,3.4,3.5,3.6,3.7,3.8,3.9,4,4.1,4.2,4.3,4.4,4.5,4.6,4.7,4.8,4.9,5],"tickSize":{"condition":{"test":"abs(datum.value-round(datum.value))<0.001","value":-23},"value":-12},"tickWidth":2,"tickColor":"#000","domainColor":"#000","domainWidth":3}},
"y":{"field":"y","type":"quantitative","scale":{"domain":[-4,3.603],"nice":false,"zero":false},"axis":{"orient":"right","title":null,"zindex":1,"grid":false,"labels":false,"values":[-4,-3.5,-3,-2.5,-2,-1.5,-1,-0.5,0,0.5,1,1.5,2,2.5,3,3.5],"tickSize":{"condition":{"test":"datum.value%2==0","value":-20},"value":-11},"tickWidth":2,"tickColor":"#000","domainColor":"#000","domainWidth":3}}}},
{"data":{"name":"lines"},"transform":[{"filter":"datum.g=='far'"}],"mark":{"type":"line","color":"#888888","strokeWidth":2.5,"strokeDash":[2,5.4]},"encoding":{"detail":{"field":"k"}}},
{"data":{"name":"lim2"},"mark":{"type":"rule","color":"#000","strokeWidth":3},"encoding":{"y":{"field":"top","type":"quantitative"},"y2":{"field":"bot"}}},
{"data":{"name":"lim2"},"mark":{"type":"rule","color":"#000","strokeWidth":3},"encoding":{"x":{"field":"l","type":"quantitative"},"x2":{"field":"r"},"y":{"field":"top","type":"quantitative"}}},
{"data":{"name":"lim2"},"mark":{"type":"rule","color":"#000","strokeWidth":3},"encoding":{"x":{"field":"l","type":"quantitative"},"x2":{"field":"r"},"y":{"field":"bot","type":"quantitative"}}},
{"data":{"name":"lim2"},"mark":{"type":"point","filled":true,"opacity":1,"fill":"#FFD700","stroke":"#000","strokeWidth":3,"size":1764,"shape":"M-1,0L1,0L0,2Z"},"encoding":{"y":{"field":"top","type":"quantitative"}}},
{"data":{"name":"lab2"},"mark":{"type":"text","font":"Liberation Sans","fontWeight":"bold","fontSize":33,"color":"#000","align":"center","baseline":"alphabetic"},"encoding":{"text":{"field":"t"}}},
{"data":{"name":"rot"},"mark":{"type":"text","font":"Liberation Sans","fontWeight":"bold","fontSize":37,"color":"#000","align":"center","baseline":"middle","angle":315},"encoding":{"text":{"field":"t"}}},
{"data":{"name":"xt"},"transform":[{"filter":"datum.k=='m'"}],"mark":{"type":"text","font":"Liberation Sans","fontWeight":"bold","fontSize":38,"color":"#000","align":"left","baseline":"alphabetic"},"encoding":{"text":{"field":"t"}}},
{"data":{"name":"xt"},"transform":[{"filter":"datum.k=='g'"}],"mark":{"type":"text","font":"Liberation Sans","fontSize":40,"color":"#000","align":"left","baseline":"alphabetic"},"encoding":{"text":{"field":"t"}}},
{"data":{"name":"xt"},"transform":[{"filter":"datum.k=='s'"}],"mark":{"type":"text","font":"Liberation Sans","fontWeight":"bold","fontSize":24,"color":"#000","align":"left","baseline":"alphabetic"},"encoding":{"text":{"field":"t"}}},
{"data":{"name":"yt"},"transform":[{"filter":"datum.k=='m'"}],"mark":{"type":"text","font":"Liberation Sans","fontWeight":"bold","fontSize":40,"color":"#000","align":"left","baseline":"alphabetic","angle":270},"encoding":{"text":{"field":"t"}}},
{"data":{"name":"yt"},"transform":[{"filter":"datum.k=='g'"}],"mark":{"type":"text","font":"Liberation Sans","fontSize":44,"color":"#000","align":"left","baseline":"alphabetic","angle":270},"encoding":{"text":{"field":"t"}}},
{"data":{"name":"yt"},"transform":[{"filter":"datum.k=='s'"}],"mark":{"type":"text","font":"Liberation Sans","fontWeight":"bold","fontSize":24,"color":"#000","align":"left","baseline":"alphabetic","angle":270},"encoding":{"text":{"field":"t"}}},
{"data":{"values":[{"t":"Alatalo+ 2014","x":3.827,"y":-4.73}]},"mark":{"type":"text","font":"Liberation Sans","fontSize":52,"color":"#000","align":"left","baseline":"alphabetic"},"encoding":{"text":{"field":"t"}}}
]}
]}
